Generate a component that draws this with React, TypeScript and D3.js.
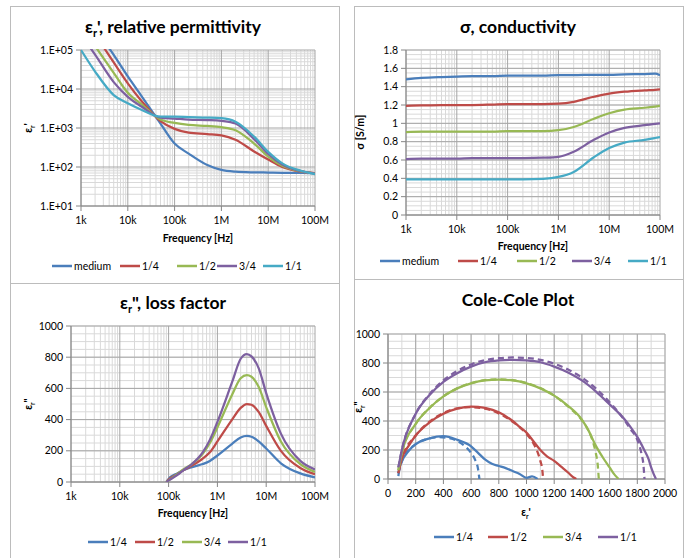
import React from "react";
import * as d3 from "d3";

const FONT = "Lato, 'Open Sans', Arial, sans-serif";
const BLUE = "#4a7ebb";
const RED = "#be4b48";
const GREEN = "#98b954";
const PURPLE = "#7d60a0";
const CYAN = "#46aac5";

// ---- data ----
const freqs = [1e3, 2e3, 5e3, 1e4, 2e4, 5e4, 1e5, 2e5, 5e5, 1e6, 2e6, 5e6, 1e7, 2e7, 5e7, 1e8];
const freqTicks = [1e3, 1e4, 1e5, 1e6, 1e7, 1e8];
const freqTickLabels = ["1k", "10k", "100k", "1M", "10M", "100M"];

// relative permittivity
const permMedium = [1.2e6, 3.6e5, 7.5e4, 2.1e4, 6.4e3, 1.3e3, 400, 220, 112, 84, 76, 73, 72, 71, 71, 70];
const permQ1 = [8.5e5, 2.5e5, 4.8e4, 1.4e4, 4.8e3, 1.5e3, 950, 760, 700, 650, 500, 250, 155, 100, 76, 70];
const permQ2 = [4.2e5, 1.26e5, 2.6e4, 8.0e3, 4.0e3, 1.65e3, 1.35e3, 1.2e3, 1.13e3, 1.05e3, 880, 400, 185, 108, 77, 69];
const permQ3 = [2.5e5, 7.6e4, 1.5e4, 6.3e3, 3.5e3, 1.85e3, 1.75e3, 1.65e3, 1.6e3, 1.52e3, 1.3e3, 520, 215, 115, 78, 68];
const permQ4 = [1.0e5, 2.8e4, 7.0e3, 4.3e3, 2.9e3, 1.95e3, 1.95e3, 1.9e3, 1.85e3, 1.78e3, 1.45e3, 600, 245, 124, 80, 66];
const permTicks = [1e1, 1e2, 1e3, 1e4, 1e5];
const permTickLabels = ["1.E+01", "1.E+02", "1.E+03", "1.E+04", "1.E+05"];

// conductivity
const condFreqs = [1e3, 2e3, 5e3, 1e4, 2e4, 5e4, 1e5, 2e5, 5e5, 1e6, 2e6, 5e6, 1e7, 2e7, 5e7, 8e7, 1e8];
const condMedium = [1.48, 1.495, 1.505, 1.51, 1.515, 1.515, 1.52, 1.52, 1.52, 1.525, 1.525, 1.53, 1.53, 1.535, 1.538, 1.542, 1.525];
const condQ1 = [1.19, 1.195, 1.2, 1.2, 1.2, 1.205, 1.21, 1.21, 1.21, 1.215, 1.235, 1.29, 1.325, 1.345, 1.36, 1.366, 1.37];
const condQ2 = [0.905, 0.91, 0.91, 0.91, 0.91, 0.91, 0.915, 0.915, 0.915, 0.925, 0.96, 1.05, 1.11, 1.15, 1.17, 1.183, 1.19];
const condQ3 = [0.61, 0.615, 0.615, 0.615, 0.62, 0.62, 0.62, 0.62, 0.625, 0.635, 0.69, 0.82, 0.9, 0.95, 0.98, 0.993, 1.0];
const condQ4 = [0.39, 0.39, 0.39, 0.39, 0.39, 0.39, 0.39, 0.39, 0.395, 0.415, 0.47, 0.63, 0.73, 0.79, 0.82, 0.84, 0.85];
const condTicks = [0, 0.2, 0.4, 0.6, 0.8, 1, 1.2, 1.4, 1.6, 1.8];

// loss factor
const lossFreqs = [9e4, 1e5, 1.5e5, 2e5, 3e5, 5e5, 7e5, 1e6, 2e6, 3e6, 4e6, 5e6, 7e6, 1e7, 2e7, 5e7, 1e8];
const lossQ1 = [0, 20, 55, 75, 95, 115, 135, 170, 245, 285, 295, 290, 260, 215, 120, 55, 30];
const lossQ2 = [0, 15, 50, 75, 105, 150, 190, 260, 400, 475, 500, 495, 450, 360, 200, 90, 50];
const lossQ3 = [0, 10, 50, 80, 115, 180, 250, 350, 560, 665, 685, 675, 610, 480, 260, 115, 65];
const lossQ4 = [0, 10, 45, 75, 115, 190, 270, 385, 640, 790, 820, 805, 730, 570, 310, 135, 80];
const lossTicks = [0, 200, 400, 600, 800, 1000];

// Cole-Cole (measured = solid, fitted = dashed)
const ccQ1Re = [75, 80, 100, 150, 200, 300, 400, 500, 600, 650, 700, 750, 800, 850, 900, 950, 1000, 1040, 1080];
const ccQ1Im = [20, 60, 120, 195, 240, 280, 295, 270, 225, 180, 135, 105, 90, 75, 55, 35, 8, 18, 0];
const ccQ1FitRe = [75, 100, 150, 200, 300, 370, 450, 500, 550, 600, 630, 650, 660];
const ccQ1FitIm = [40, 125, 200, 240, 280, 288, 280, 262, 230, 180, 130, 70, 0];
const ccQ2Re = [75, 100, 150, 200, 300, 400, 500, 600, 700, 800, 900, 950, 1000, 1050, 1100, 1150, 1200, 1250, 1300, 1340, 1360];
const ccQ2Im = [40, 140, 230, 300, 390, 450, 485, 500, 490, 460, 400, 360, 320, 260, 200, 155, 125, 85, 45, 10, 0];
const ccQ2FitRe = [75, 100, 200, 300, 400, 500, 600, 700, 800, 900, 1000, 1050, 1080, 1100, 1115, 1120];
const ccQ2FitIm = [40, 140, 300, 395, 455, 488, 495, 485, 452, 395, 310, 245, 185, 125, 55, 0];
const ccQ3Re = [75, 100, 200, 300, 400, 500, 600, 700, 800, 900, 1000, 1100, 1200, 1300, 1400, 1450, 1500, 1550, 1600, 1640, 1665];
const ccQ3Im = [60, 180, 380, 490, 570, 625, 660, 680, 685, 680, 660, 625, 575, 505, 410, 330, 230, 150, 80, 25, 0];
const ccQ3FitRe = [75, 100, 200, 300, 400, 500, 600, 700, 800, 900, 1000, 1100, 1200, 1300, 1400, 1450, 1480, 1500, 1515, 1522];
const ccQ3FitIm = [60, 180, 380, 490, 570, 625, 662, 682, 688, 682, 662, 627, 575, 500, 405, 330, 255, 180, 90, 0];
const ccQ4Re = [75, 100, 200, 300, 400, 500, 600, 700, 800, 900, 1000, 1100, 1200, 1300, 1400, 1500, 1600, 1700, 1750, 1800, 1850, 1880, 1900, 1920, 1935];
const ccQ4Im = [80, 200, 450, 580, 670, 730, 775, 805, 818, 822, 818, 805, 775, 735, 680, 605, 515, 420, 360, 290, 200, 140, 80, 30, 0];
const ccQ4FitRe = [75, 100, 200, 300, 400, 500, 600, 700, 800, 900, 1000, 1100, 1200, 1300, 1400, 1500, 1600, 1700, 1750, 1800, 1830, 1845, 1852];
const ccQ4FitIm = [80, 200, 450, 585, 680, 745, 790, 820, 833, 838, 835, 822, 795, 755, 700, 625, 530, 415, 345, 270, 175, 90, 0];
const ccXTicks = [0, 200, 400, 600, 800, 1000, 1200, 1400, 1600, 1800, 2000];
const ccYTicks = [0, 200, 400, 600, 800, 1000];

const GRID_MAJOR = "#a6a6a6";
const GRID_MINOR = "#d9d9d9";
const AXIS = "#868686";
const TEXT = "#000";
const TICK_FS = 10.5;
const TITLE_FS = 17.5;

type Series = { name: string; color: string; x: number[]; y: number[]; dash?: string };

function decadeMinors(lo: number, hi: number) {
  const out: number[] = [];
  for (let d = lo; d < hi; d *= 10) for (let k = 2; k <= 9; k++) out.push(d * k);
  return out;
}

function linSteps(lo: number, hi: number, step: number) {
  return d3.range(lo, hi + step / 2, step);
}

function Legend({ items, y, xs }: { items: { name: string; color: string }[]; y: number; xs: number[] }) {
  return (
    <g>
      {items.map((it, i) => (
        <g key={it.name}>
          <line x1={xs[i]} x2={xs[i] + 20} y1={y} y2={y} stroke={it.color} strokeWidth={2.5} />
          <text x={xs[i] + 22} y={y + 3.5} fontSize={10.5} fontFamily={FONT} fill={TEXT}>
            {it.name}
          </text>
        </g>
      ))}
    </g>
  );
}

function Frame({ x, y, w, h }: { x: number; y: number; w: number; h: number }) {
  return <rect x={x + 0.5} y={y + 0.5} width={w} height={h} fill="#fff" stroke="#bcbcbc" strokeWidth={1} />;
}

function Plot(props: {
  id: string;
  x: d3.ScaleLogarithmic<number, number> | d3.ScaleLinear<number, number>;
  y: d3.ScaleLogarithmic<number, number> | d3.ScaleLinear<number, number>;
  xMajor: number[];
  xMinor: number[];
  yMajor: number[];
  yMinor: number[];
  xLabels: string[];
  yLabels: string[];
  series: Series[];
  curve: d3.CurveFactory;
}) {
  const { id, x, y, xMajor, xMinor, yMajor, yMinor, xLabels, yLabels, series, curve } = props;
  const [x0, x1] = x.range();
  const [y1, y0] = y.range();
  const line = d3
    .line<[number, number]>()
    .x((d) => x(d[0]))
    .y((d) => y(d[1]))
    .curve(curve);
  return (
    <g>
      <defs>
        <clipPath id={id}>
          <rect x={x0} y={y0 - 1} width={x1 - x0} height={y1 - y0 + 1} />
        </clipPath>
      </defs>
      {xMinor.map((v) => (
        <line key={"xm" + v} x1={x(v)} x2={x(v)} y1={y0} y2={y1} stroke={GRID_MINOR} />
      ))}
      {yMinor.map((v) => (
        <line key={"ym" + v} x1={x0} x2={x1} y1={y(v)} y2={y(v)} stroke={GRID_MINOR} />
      ))}
      {xMajor.map((v) => (
        <line key={"xM" + v} x1={x(v)} x2={x(v)} y1={y0} y2={y1} stroke={GRID_MAJOR} />
      ))}
      {yMajor.map((v) => (
        <line key={"yM" + v} x1={x0} x2={x1} y1={y(v)} y2={y(v)} stroke={GRID_MAJOR} />
      ))}
      <line x1={x0} x2={x0} y1={y0} y2={y1} stroke={AXIS} />
      <line x1={x0} x2={x1} y1={y1} y2={y1} stroke={AXIS} />
      {yMajor.map((v, i) => (
        <g key={"yt" + v}>
          <line x1={x0 - 5} x2={x0} y1={y(v)} y2={y(v)} stroke={AXIS} />
          <text x={x0 - 8} y={y(v) + 3.5} textAnchor="end" fontSize={TICK_FS} fontFamily={FONT} fill={TEXT}>
            {yLabels[i]}
          </text>
        </g>
      ))}
      {xMajor.map((v, i) => (
        <g key={"xt" + v}>
          <line x1={x(v)} x2={x(v)} y1={y1} y2={y1 + 5} stroke={AXIS} />
          <text x={x(v)} y={y1 + 18} textAnchor="middle" fontSize={TICK_FS} fontFamily={FONT} fill={TEXT}>
            {xLabels[i]}
          </text>
        </g>
      ))}
      <g clipPath={`url(#${id})`}>
        {series.map((s, i) => (
          <path
            key={i}
            d={line(s.x.map((v, j) => [v, s.y[j]] as [number, number])) || ""}
            fill="none"
            stroke={s.color}
            strokeWidth={2.25}
            strokeDasharray={s.dash}
          />
        ))}
      </g>
    </g>
  );
}

function Eps({ x, y, mark, rotate, size = 10.5, bold = true }: { x: number; y: number; mark: string; rotate?: boolean; size?: number; bold?: boolean }) {
  return (
    <text
      x={x}
      y={y}
      textAnchor="middle"
      fontSize={size}
      fontWeight={bold ? "bold" : "normal"}
      fontFamily={FONT}
      fill={TEXT}
      transform={rotate ? `rotate(-90,${x},${y})` : undefined}
    >
      ε<tspan fontSize={size * 0.65} dy={size * 0.25}>r</tspan>
      <tspan dy={-size * 0.25}>{mark}</tspan>
    </text>
  );
}

export default function App() {
  // panel 1: permittivity
  const p1x = d3.scaleLog().domain([1e3, 1e8]).range([81, 315]);
  const p1y = d3.scaleLog().domain([1e1, 1e5]).range([206, 50]);
  const permSeries: Series[] = [
    { name: "medium", color: BLUE, x: freqs, y: permMedium },
    { name: "1/4", color: RED, x: freqs, y: permQ1 },
    { name: "1/2", color: GREEN, x: freqs, y: permQ2 },
    { name: "3/4", color: PURPLE, x: freqs, y: permQ3 },
    { name: "1/1", color: CYAN, x: freqs, y: permQ4 },
  ];

  // panel 2: conductivity
  const p2x = d3.scaleLog().domain([1e3, 1e8]).range([406, 660]);
  const p2y = d3.scaleLinear().domain([0, 1.8]).range([215, 50]);
  const condSeries: Series[] = [
    { name: "medium", color: BLUE, x: condFreqs, y: condMedium },
    { name: "1/4", color: RED, x: condFreqs, y: condQ1 },
    { name: "1/2", color: GREEN, x: condFreqs, y: condQ2 },
    { name: "3/4", color: PURPLE, x: condFreqs, y: condQ3 },
    { name: "1/1", color: CYAN, x: condFreqs, y: condQ4 },
  ];

  // panel 3: loss factor
  const p3x = d3.scaleLog().domain([1e3, 1e8]).range([71, 315]);
  const p3y = d3.scaleLinear().domain([0, 1000]).range([482, 326]);
  const lossSeries: Series[] = [
    { name: "1/4", color: BLUE, x: lossFreqs, y: lossQ1 },
    { name: "1/2", color: RED, x: lossFreqs, y: lossQ2 },
    { name: "3/4", color: GREEN, x: lossFreqs, y: lossQ3 },
    { name: "1/1", color: PURPLE, x: lossFreqs, y: lossQ4 },
  ];

  // panel 4: Cole-Cole
  const p4x = d3.scaleLinear().domain([0, 2000]).range([388, 665]);
  const p4y = d3.scaleLinear().domain([0, 1000]).range([479, 334]);
  const ccSeries: Series[] = [
    { name: "1/4 fit", color: BLUE, x: ccQ1FitRe, y: ccQ1FitIm, dash: "6,4" },
    { name: "1/2 fit", color: RED, x: ccQ2FitRe, y: ccQ2FitIm, dash: "6,4" },
    { name: "3/4 fit", color: GREEN, x: ccQ3FitRe, y: ccQ3FitIm, dash: "6,4" },
    { name: "1/1 fit", color: PURPLE, x: ccQ4FitRe, y: ccQ4FitIm, dash: "6,4" },
    { name: "1/4", color: BLUE, x: ccQ1Re, y: ccQ1Im },
    { name: "1/2", color: RED, x: ccQ2Re, y: ccQ2Im },
    { name: "3/4", color: GREEN, x: ccQ3Re, y: ccQ3Im },
    { name: "1/1", color: PURPLE, x: ccQ4Re, y: ccQ4Im },
  ];

  const xMinorLog = decadeMinors(1e3, 1e8);

  return (
    <svg width={690} height={558} style={{ position: "absolute", left: 0, top: 0, background: "#fff" }}>
      <rect width={690} height={558} fill="#fff" />
      <Frame x={10} y={6} w={329} h={277} />
      <Frame x={354} y={6} w={329} h={273} />
      <Frame x={10} y={283} w={329} h={290} />
      <Frame x={354} y={279} w={329} h={294} />

      {/* panel 1 */}
      <text x={173} y={33} textAnchor="middle" fontSize={TITLE_FS} fontWeight="bold" fontFamily={FONT} fill={TEXT}>
        ε<tspan fontSize={11} dy={4}>r</tspan>
        <tspan dy={-4}>', relative permittivity</tspan>
      </text>
      <Plot
        id="c1"
        x={p1x}
        y={p1y}
        xMajor={freqTicks}
        xMinor={xMinorLog}
        yMajor={permTicks}
        yMinor={decadeMinors(1e1, 1e5)}
        xLabels={freqTickLabels}
        yLabels={permTickLabels}
        series={permSeries}
        curve={d3.curveMonotoneX}
      />
      <text x={198} y={242} textAnchor="middle" fontSize={10.5} fontWeight="bold" fontFamily={FONT} fill={TEXT}>
        Frequency [Hz]
      </text>
      <Eps x={32} y={128} mark="'" rotate />
      <Legend items={permSeries} y={266} xs={[52, 120, 177, 217, 263]} />

      {/* panel 2 */}
      <text x={518} y={33} textAnchor="middle" fontSize={TITLE_FS} fontWeight="bold" fontFamily={FONT} fill={TEXT}>
        σ, conductivity
      </text>
      <Plot
        id="c2"
        x={p2x}
        y={p2y}
        xMajor={freqTicks}
        xMinor={xMinorLog}
        yMajor={condTicks}
        yMinor={linSteps(0, 1.8, 0.05)}
        xLabels={freqTickLabels}
        yLabels={condTicks.map((v) => String(+v.toFixed(1)))}
        series={condSeries}
        curve={d3.curveMonotoneX}
      />
      <text x={533} y={250} textAnchor="middle" fontSize={10.5} fontWeight="bold" fontFamily={FONT} fill={TEXT}>
        Frequency [Hz]
      </text>
      <text
        x={364}
        y={132}
        textAnchor="middle"
        fontSize={10.5}
        fontWeight="bold"
        fontFamily={FONT}
        fill={TEXT}
        transform="rotate(-90,364,132)"
      >
        σ [S/m]
      </text>
      <Legend items={condSeries} y={261} xs={[380, 458, 517, 572, 628]} />

      {/* panel 3 */}
      <text x={173} y={309} textAnchor="middle" fontSize={TITLE_FS} fontWeight="bold" fontFamily={FONT} fill={TEXT}>
        ε<tspan fontSize={11} dy={4}>r</tspan>
        <tspan dy={-4}>", loss factor</tspan>
      </text>
      <Plot
        id="c3"
        x={p3x}
        y={p3y}
        xMajor={freqTicks}
        xMinor={xMinorLog}
        yMajor={lossTicks}
        yMinor={linSteps(0, 1000, 50)}
        xLabels={freqTickLabels}
        yLabels={lossTicks.map(String)}
        series={lossSeries}
        curve={d3.curveMonotoneX}
      />
      <text x={193} y={517} textAnchor="middle" fontSize={10.5} fontWeight="bold" fontFamily={FONT} fill={TEXT}>
        Frequency [Hz]
      </text>
      <Eps x={32} y={404} mark={'"'} rotate />
      <Legend items={lossSeries} y={542} xs={[88, 135, 182, 228]} />

      {/* panel 4 */}
      <text x={518} y={306} textAnchor="middle" fontSize={TITLE_FS} fontWeight="bold" fontFamily={FONT} fill={TEXT}>
        Cole-Cole Plot
      </text>
      <Plot
        id="c4"
        x={p4x}
        y={p4y}
        xMajor={ccXTicks}
        xMinor={linSteps(0, 2000, 100)}
        yMajor={ccYTicks}
        yMinor={linSteps(0, 1000, 50)}
        xLabels={ccXTicks.map(String)}
        yLabels={ccYTicks.map(String)}
        series={ccSeries}
        curve={d3.curveMonotoneX}
      />
      <Eps x={526} y={516} mark="'" />
      <Eps x={362} y={407} mark={'"'} rotate />
      <Legend items={ccSeries.slice(4)} y={537} xs={[434, 488, 543, 598]} />
    </svg>
  );
}
